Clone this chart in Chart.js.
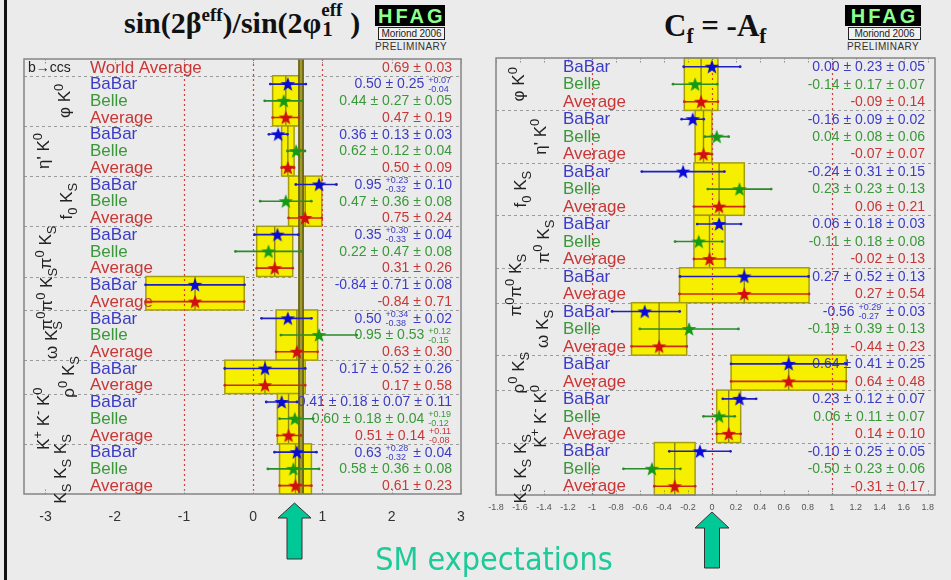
<!DOCTYPE html>
<html>
<head>
<meta charset="utf-8">
<title>Time-dependent CP asymmetries in b → s penguin modes</title>
<script src="https://cdn.jsdelivr.net/npm/chart.js@4.4.1/dist/chart.umd.min.js"></script>
<style>
  html, body { margin:0; padding:0; background:#ebebeb; }
  #page { position:relative; width:951px; height:580px; overflow:hidden; background:#ebebeb;
          font-family:"Liberation Sans", Arial, sans-serif; }
  #page canvas { position:absolute; left:0; top:0; }
  .edge { position:absolute; left:4px; top:0; width:3px; height:580px; background:#111; }
  .title { position:absolute; font-family:"Liberation Serif","Times New Roman",serif; font-weight:bold;
           font-size:30px; color:#111; white-space:nowrap; line-height:1; }
  .title .sp { font-size:19px; position:relative; top:-12px; }
  .title .sb { font-size:21px; position:relative; top:7px; }
  .title .stack { display:inline-block; position:relative; width:29px; height:10px; }
  .title .stack .a { position:absolute; left:0; top:-23px; font-size:19px; }
  .title .stack .b { position:absolute; left:1px; top:-4px; font-size:21px; }
  .logo { position:absolute; text-align:center; white-space:nowrap; }
  .logo .hf { background:#000; color:#8cff8c; font:bold 20px "Liberation Sans", Arial, sans-serif;
              letter-spacing:3px; height:21px; line-height:22px; padding-left:3px; }
  .logo .mor { margin:1px 0 0 3px; border:1px solid #222; background:#f2f2f2; color:#222;
               font:10px "Liberation Sans", Arial, sans-serif; line-height:11px; letter-spacing:-0.1px; }
  .logo .pre { color:#333; font:10px "Liberation Sans", Arial, sans-serif; margin-top:1px; letter-spacing:0.4px; }
  .sm { position:absolute; left:0; width:988px; top:540px; text-align:center; color:#1ec99a;
        font-family:"Liberation Sans Narrow","DejaVu Sans Condensed","Liberation Sans",sans-serif; font-size:32px; }
</style>
</head>
<body>
<div id="page">
  <div class="edge"></div>

  <div class="title" style="left:124px;top:8px">sin(2β<span class="sp">eff</span>)/sin(2φ<span class="stack"><span class="a">eff</span><span class="b">1</span></span>)</div>
  <div class="title" style="left:664px;top:10px;font-size:31px">C<span class="sb">f</span> = -A<span class="sb">f</span></div>

  <div class="logo" style="left:375px;top:5px;width:70px">
    <div class="hf">HFAG</div><div class="mor">Moriond 2006</div><div class="pre">PRELIMINARY</div>
  </div>
  <div class="logo" style="left:845px;top:5px;width:76px">
    <div class="hf">HFAG</div><div class="mor">Moriond 2006</div><div class="pre">PRELIMINARY</div>
  </div>

  <canvas id="chartS" width="951" height="580"></canvas>
  <canvas id="chartC" width="951" height="580"></canvas>

  <svg width="951" height="580" style="position:absolute;left:0;top:0">
    <polygon points="294.5,503 311,518 302,518 302,559 287,559 287,518 278,518" fill="#00c896" stroke="#333" stroke-width="1"/>
    <polygon points="712,512 729,528 719.5,528 719.5,568 704.5,568 704.5,528 695,528" fill="#00c896" stroke="#333" stroke-width="1"/>
  </svg>
  <div class="sm">SM expectations</div>
</div>

<script>
// ---------------------------------------------------------------
// Decay modes and the measurements entering each average
// ---------------------------------------------------------------
const MODES = ['phiK0', 'etapK0', 'f0KS', 'pi0KS', 'pi0pi0KS', 'omegaKS', 'rho0KS', 'KpKmK0', 'KSKSKS'];
const MODE_EXPTS = [
  ['BaBar', 'Belle', 'Average'],
  ['BaBar', 'Belle', 'Average'],
  ['BaBar', 'Belle', 'Average'],
  ['BaBar', 'Belle', 'Average'],
  ['BaBar', 'Average'],
  ['BaBar', 'Belle', 'Average'],
  ['BaBar', 'Average'],
  ['BaBar', 'Belle', 'Average'],
  ['BaBar', 'Belle', 'Average']
];
// Mode names as [text, script] pieces: 0 normal, 1 superscript, -1 subscript
const MODE_NAMES = [
  [['φ', 0], [' K', 0], ['0', 1]],
  [["η'", 0], [' K', 0], ['0', 1]],
  [['f', 0], ['0', -1], [' K', 0], ['S', -1]],
  [['π', 0], ['0', 1], [' K', 0], ['S', -1]],
  [['π', 0], ['0', 1], ['π', 0], ['0', 1], [' K', 0], ['S', -1]],
  [['ω', 0], [' K', 0], ['S', -1]],
  [['ρ', 0], ['0', 1], [' K', 0], ['S', -1]],
  [['K', 0], ['+', 1], [' K', 0], ['-', 1], [' K', 0], ['0', 1]],
  [['K', 0], ['S', -1], [' K', 0], ['S', -1], [' K', 0], ['S', -1]]
];

// ---- sin(2beta_eff): one entry per measurement row, in MODE_EXPTS order ----
const S_WORLD_AVG = 0.69;
const S_WORLD_ERR = 0.03;
const S_VALUE   = [0.50, 0.44, 0.47,  0.36, 0.62, 0.50,  0.95, 0.47, 0.75,  0.35, 0.22, 0.31,  -0.84, -0.84,
                   0.50, 0.95, 0.63,  0.17, 0.17,  0.41, 0.60, 0.51,  0.63, 0.58, 0.61];
const S_STAT_UP = [0.25, 0.27, 0.19,  0.13, 0.12, 0.09,  0.23, 0.36, 0.24,  0.30, 0.47, 0.26,  0.71, 0.71,
                   0.34, 0.53, 0.30,  0.52, 0.58,  0.18, 0.18, 0.14,  0.28, 0.36, 0.23];
const S_STAT_DN = [0.25, 0.27, 0.19,  0.13, 0.12, 0.09,  0.32, 0.36, 0.24,  0.33, 0.47, 0.26,  0.71, 0.71,
                   0.38, 0.53, 0.30,  0.52, 0.58,  0.18, 0.18, 0.14,  0.32, 0.36, 0.23];
// systematic terms, each [up, down]
const S_SYST = [
  [[0.07, 0.04]], [[0.05, 0.05]], [],
  [[0.03, 0.03]], [[0.04, 0.04]], [],
  [[0.10, 0.10]], [[0.08, 0.08]], [],
  [[0.04, 0.04]], [[0.08, 0.08]], [],
  [[0.08, 0.08]], [],
  [[0.02, 0.02]], [[0.12, 0.15]], [],
  [[0.26, 0.26]], [],
  [[0.07, 0.07], [0.11, 0.11]], [[0.04, 0.04], [0.19, 0.12]], [[0.11, 0.08]],
  [[0.04, 0.04]], [[0.08, 0.08]], []
];
const S_TICKS = [-3, -2, -1, 0, 1, 2, 3];
const S_REF_LINES = [-1, 0, 1];

// ---- C_f = -A_f ----
const C_VALUE   = [0.00, -0.14, -0.09,  -0.16, 0.04, -0.07,  -0.24, 0.23, 0.06,  0.06, -0.11, -0.02,  0.27, 0.27,
                   -0.56, -0.19, -0.44,  0.64, 0.64,  0.23, 0.06, 0.14,  -0.10, -0.50, -0.31];
const C_STAT_UP = [0.23, 0.17, 0.14,  0.09, 0.08, 0.07,  0.31, 0.23, 0.21,  0.18, 0.18, 0.13,  0.52, 0.54,
                   0.29, 0.39, 0.23,  0.41, 0.48,  0.12, 0.11, 0.10,  0.25, 0.23, 0.17];
const C_STAT_DN = [0.23, 0.17, 0.14,  0.09, 0.08, 0.07,  0.31, 0.23, 0.21,  0.18, 0.18, 0.13,  0.52, 0.54,
                   0.27, 0.39, 0.23,  0.41, 0.48,  0.12, 0.11, 0.10,  0.25, 0.23, 0.17];
const C_SYST = [
  [[0.05, 0.05]], [[0.07, 0.07]], [],
  [[0.02, 0.02]], [[0.06, 0.06]], [],
  [[0.15, 0.15]], [[0.13, 0.13]], [],
  [[0.03, 0.03]], [[0.08, 0.08]], [],
  [[0.13, 0.13]], [],
  [[0.03, 0.03]], [[0.13, 0.13]], [],
  [[0.25, 0.25]], [],
  [[0.07, 0.07]], [[0.07, 0.07]], [],
  [[0.05, 0.05]], [[0.06, 0.06]], []
];
const C_TICKS = [-1.8, -1.6, -1.4, -1.2, -1, -0.8, -0.6, -0.4, -0.2, 0, 0.2, 0.4, 0.6, 0.8, 1, 1.2, 1.4, 1.6, 1.8];
const C_REF_LINES = [-1, 0, 1];

// ---------------------------------------------------------------
// Styling
// ---------------------------------------------------------------
const FONT = '"Liberation Sans", Arial, sans-serif';
const EXP_STYLE = {
  BaBar:   { text: '#3b3bc6', bar: '#1f1fc0', star: '#0a0ad8' },
  Belle:   { text: '#3a983a', bar: '#2a8c2a', star: '#159a15' },
  Average: { text: '#c83636', bar: '#cc2a1a', star: '#d01010' }
};

function starImage(color) {
  const c = document.createElement('canvas');
  c.width = 16; c.height = 16;
  const g = c.getContext('2d');
  g.beginPath();
  for (let i = 0; i < 10; i++) {
    const r = i % 2 === 0 ? 7.6 : 3.1;
    const a = -Math.PI / 2 + i * Math.PI / 5;
    const px = 8 + r * Math.cos(a), py = 8.6 + r * Math.sin(a);
    i === 0 ? g.moveTo(px, py) : g.lineTo(px, py);
  }
  g.closePath();
  g.fillStyle = color;
  g.fill();
  return c;
}

const fmt = v => v.toFixed(2);

function quad(stat, syst, k) {
  let s = stat * stat;
  syst.forEach(p => { s += p[k] * p[k]; });
  return Math.sqrt(s);
}

// Text pieces for "value ± stat ± syst", with stacked +up/-down for asymmetric terms
function valuePieces(v, up, dn, syst) {
  const out = [{ t: fmt(v) }];
  const term = (a, b) => {
    if (Math.abs(a - b) < 1e-9) out.push({ t: ' ± ' + fmt(a) });
    else { out.push({ t: ' ' }); out.push({ hi: '+' + fmt(a), lo: '-' + fmt(b) }); }
  };
  term(up, dn);
  syst.forEach(p => term(p[0], p[1]));
  return out;
}

function drawRightAligned(ctx, pieces, xRight, yMid, color, size, small) {
  const big = `${size}px ${FONT}`, sm = `${small}px ${FONT}`;
  let total = 0;
  const widths = pieces.map(p => {
    let w;
    if (p.t !== undefined) { ctx.font = big; w = ctx.measureText(p.t).width; }
    else { ctx.font = sm; w = Math.max(ctx.measureText(p.hi).width, ctx.measureText(p.lo).width) + 1; }
    total += w; return w;
  });
  let x = xRight - total;
  ctx.fillStyle = color; ctx.textAlign = 'left'; ctx.textBaseline = 'middle';
  pieces.forEach((p, i) => {
    if (p.t !== undefined) { ctx.font = big; ctx.fillText(p.t, x, yMid + 0.5); }
    else {
      ctx.font = sm;
      ctx.fillText(p.hi, x, yMid - 4);
      ctx.fillText(p.lo, x, yMid + 5);
    }
    x += widths[i];
  });
}

// Vertical mode name, reading bottom to top, centred on (cx, cy)
function drawModeName(ctx, pieces, cx, cy) {
  const big = `17px ${FONT}`, sm = `13px ${FONT}`;
  ctx.save();
  ctx.translate(cx, cy);
  ctx.rotate(-Math.PI / 2);
  let total = 0;
  const widths = pieces.map(([t, s]) => { ctx.font = s ? sm : big; const w = ctx.measureText(t).width; total += w; return w; });
  let x = -total / 2;
  ctx.fillStyle = '#222'; ctx.textAlign = 'left'; ctx.textBaseline = 'alphabetic';
  pieces.forEach(([t, s], i) => {
    ctx.font = s ? sm : big;
    const dy = s === 1 ? -1 : (s === -1 ? 11 : 6);
    ctx.fillText(t, x, dy);
    x += widths[i];
  });
  ctx.restore();
}

function makePanel(id, P) {
  const first = P.worldAvg !== undefined ? 1 : 0;
  const rows = [];
  let r = first;
  MODE_EXPTS.forEach((list, g) => list.forEach(exp => rows.push({ g, exp, row: r++ })));
  const nRows = r;
  const up = rows.map((_, i) => quad(P.statUp[i], P.syst[i], 0));
  const dn = rows.map((_, i) => quad(P.statDn[i], P.syst[i], 1));

  const datasets = [];
  ['Average', 'Belle', 'BaBar'].forEach(exp => {
    const st = EXP_STYLE[exp];
    const idx = rows.map((o, i) => i).filter(i => rows[i].exp === exp);
    datasets.push({
      label: exp, order: 0,
      data: idx.map(i => ({ x: P.values[i], y: rows[i].row })),
      pointStyle: starImage(st.star), pointRadius: 8
    });
    const seg = [];
    idx.forEach(i => {
      seg.push({ x: P.values[i] - dn[i], y: rows[i].row });
      seg.push({ x: P.values[i] + up[i], y: rows[i].row });
      seg.push({ x: null, y: null });
    });
    datasets.push({
      label: exp + ' error', order: 1, data: seg, showLine: true, spanGaps: false,
      borderColor: st.bar, borderWidth: 1.6, pointRadius: 1.4, pointStyle: 'circle',
      pointBackgroundColor: st.bar, pointBorderWidth: 0
    });
  });

  const decor = {
    id: 'decor',
    beforeDatasetsDraw(chart) {
      const { ctx, chartArea: a, scales: { x, y } } = chart;
      const px = v => x.getPixelForValue(v);
      const py = v => y.getPixelForValue(v);
      ctx.save();

      // dashed separators between modes
      ctx.strokeStyle = '#9a9a9a'; ctx.lineWidth = 1; ctx.setLineDash([3, 3]);
      const groupFirst = [], groupLast = [];
      rows.forEach(o => {
        if (groupFirst[o.g] === undefined) groupFirst[o.g] = o.row;
        groupLast[o.g] = o.row;
      });
      groupFirst.forEach((fr, g) => {
        if (fr === 0) return;
        const yy = Math.round(py(fr - 0.5)) + 0.5;
        ctx.beginPath(); ctx.moveTo(a.left, yy); ctx.lineTo(a.right, yy); ctx.stroke();
      });
      ctx.setLineDash([]);

      // yellow bands: mode averages
      rows.forEach((o, i) => {
        if (o.exp !== 'Average') return;
        const x0 = px(P.values[i] - dn[i]), x1 = px(P.values[i] + up[i]);
        const y0 = py(groupFirst[o.g] - 0.5), y1 = py(groupLast[o.g] + 0.5);
        ctx.fillStyle = '#f7ef00';
        ctx.fillRect(x0, y0, x1 - x0, y1 - y0);
        ctx.strokeStyle = '#a59d10'; ctx.lineWidth = 1.5;
        ctx.strokeRect(x0, y0, x1 - x0, y1 - y0);
        ctx.strokeStyle = '#8e8812'; ctx.lineWidth = 1.4;
        ctx.beginPath(); ctx.moveTo(px(P.values[i]), y0); ctx.lineTo(px(P.values[i]), y1); ctx.stroke();
      });

      // world average band
      if (P.worldAvg !== undefined) {
        const x0 = px(P.worldAvg - P.worldErr), x1 = px(P.worldAvg + P.worldErr);
        ctx.fillStyle = '#a49a2c';
        ctx.fillRect(x0, a.top, x1 - x0, a.bottom - a.top);
        ctx.strokeStyle = '#625d12'; ctx.lineWidth = 1.6;
        ctx.beginPath();
        ctx.moveTo(x0, a.top); ctx.lineTo(x0, a.bottom);
        ctx.moveTo(x1, a.top); ctx.lineTo(x1, a.bottom);
        ctx.stroke();
      }

      // red dotted reference lines
      ctx.strokeStyle = '#d23c3c'; ctx.lineWidth = 1.2; ctx.setLineDash([2, 3]);
      P.refLines.forEach(v => {
        const xx = Math.round(px(v)) + 0.5;
        ctx.beginPath(); ctx.moveTo(xx, a.top); ctx.lineTo(xx, a.bottom); ctx.stroke();
      });
      ctx.setLineDash([]);

      // frame and tick marks
      ctx.strokeStyle = '#858585'; ctx.lineWidth = 1.5;
      ctx.strokeRect(a.left, a.top, a.right - a.left, a.bottom - a.top);
      ctx.strokeStyle = '#8a8a8a'; ctx.lineWidth = 1; ctx.setLineDash([1.5, 1.5]);
      P.ticks.forEach(v => {
        const xx = Math.round(px(v)) + 0.5;
        ctx.beginPath();
        ctx.moveTo(xx, a.top); ctx.lineTo(xx, a.top + 5);
        ctx.moveTo(xx, a.bottom); ctx.lineTo(xx, a.bottom - 5);
        ctx.stroke();
      });
      ctx.setLineDash([]);

      // row names and values
      ctx.textBaseline = 'middle';
      rows.forEach((o, i) => {
        const yy = py(o.row);
        ctx.font = `17px ${FONT}`; ctx.fillStyle = EXP_STYLE[o.exp].text; ctx.textAlign = 'left';
        ctx.fillText(o.exp, a.left + P.nameDx, yy + 0.5);
        drawRightAligned(ctx, valuePieces(P.values[i], P.statUp[i], P.statDn[i], P.syst[i]),
                         a.right - P.valueDx, yy, EXP_STYLE[o.exp].text, 14, 9);
      });
      if (P.worldAvg !== undefined) {
        const yy = py(0);
        ctx.font = `17px ${FONT}`; ctx.fillStyle = EXP_STYLE.Average.text; ctx.textAlign = 'left';
        ctx.fillText('World Average', a.left + P.nameDx, yy + 0.5);
        ctx.font = `14px ${FONT}`; ctx.fillStyle = '#222';
        ctx.fillText('b→ccs', a.left + 4, yy + 1);
        drawRightAligned(ctx, [{ t: fmt(P.worldAvg) + ' ± ' + fmt(P.worldErr) }],
                         a.right - P.valueDx, yy, EXP_STYLE.Average.text, 14, 9);
      }

      // vertical mode names
      MODE_NAMES.forEach((pieces, g) => {
        const cy = (py(groupFirst[g] - 0.5) + py(groupLast[g] + 0.5)) / 2 + P.modeDy[g];
        drawModeName(ctx, pieces, a.left + P.modeDx[g], cy);
      });
      ctx.restore();
    }
  };

  new Chart(document.getElementById(id), {
    type: 'scatter',
    data: { datasets },
    options: {
      responsive: false, animation: false, devicePixelRatio: 1, events: [],
      layout: { padding: P.padding },
      plugins: { legend: { display: false }, tooltip: { enabled: false } },
      scales: {
        x: {
          type: 'linear', min: P.xMin, max: P.xMax,
          afterBuildTicks: s => { s.ticks = P.ticks.map(v => ({ value: v })); },
          afterFit: s => { s.height = 30; },
          grid: { display: false, drawTicks: false },
          border: { display: false },
          ticks: {
            autoSkip: false, maxRotation: 0, padding: P.tickPad,
            color: P.tickColor, font: { family: FONT, size: P.tickSize },
            callback: v => String(Number(v.toFixed(1)))
          }
        },
        y: { type: 'linear', min: -0.5, max: nRows - 0.5, reverse: true, display: false }
      }
    },
    plugins: [decor]
  });
}

makePanel('chartS', {
  values: S_VALUE, statUp: S_STAT_UP, statDn: S_STAT_DN, syst: S_SYST,
  worldAvg: S_WORLD_AVG, worldErr: S_WORLD_ERR,
  xMin: -3.31, xMax: 3.0, ticks: S_TICKS, refLines: S_REF_LINES,
  padding: { left: 24, right: 490, top: 59, bottom: 56 },
  tickPad: 15, tickSize: 14, tickColor: '#333',
  nameDx: 66, valueDx: 9,
  modeDx: [40, 19, 42, 21, 22, 27, 44, 19, 36],
  modeDy: [0, 0, 0, -4, 6, 5, 0, 0, 0]
});

makePanel('chartC', {
  values: C_VALUE, statUp: C_STAT_UP, statDn: C_STAT_DN, syst: C_SYST,
  xMin: -1.8, xMax: 1.86, ticks: C_TICKS, refLines: C_REF_LINES,
  padding: { left: 496, right: 16, top: 58, bottom: 55 },
  tickPad: 7, tickSize: 9, tickColor: '#555',
  nameDx: 67, valueDx: 10,
  modeDx: [22, 44, 24, 47, 19, 46, 22, 44, 24],
  modeDy: [0, 0, 0, 0, 0, 0, 0, 0, 0]
});
</script>
</body>
</html>
